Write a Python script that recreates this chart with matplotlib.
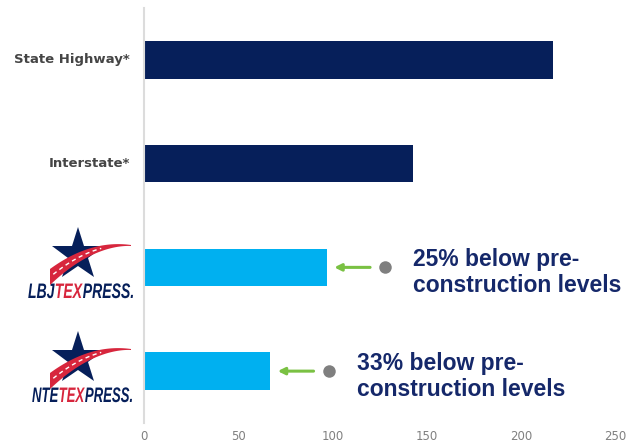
#!/usr/bin/env python3
"""Horizontal bar chart: crashes by road type vs. TEXpress lanes."""

import matplotlib

matplotlib.use("Agg")
import matplotlib.pyplot as plt  # noqa: E402
from matplotlib.font_manager import FontProperties  # noqa: E402
from matplotlib.patches import PathPatch, Polygon  # noqa: E402
from matplotlib.textpath import TextPath  # noqa: E402
from matplotlib.transforms import Affine2D  # noqa: E402
import numpy as np  # noqa: E402

CATEGORIES = ["State Highway*", "Interstate*", "LBJ", "NTE"]
VALUES = [217, 143, 97, 67]
BAR_COLORS = ["#061f5a", "#061f5a", "#00b0f0", "#00b0f0"]
NOTES = {2: "25% below pre-\nconstruction levels", 3: "33% below pre-\nconstruction levels"}
LOGO_PREFIX = {2: "LBJ", 3: "NTE"}
X_TICKS = [0, 50, 100, 150, 200, 250]

NAVY = "#061f5a"
TEXT_NAVY = "#15286a"
RED = "#d7263d"
W, H = 631, 445
LOGO_FONT = FontProperties(family="Liberation Sans", weight="bold", style="italic")


def squeezed_word(lax, x, baseline, pieces, width):
    """Draw condensed coloured word pieces so they fill `width` pixels."""
    paths = [TextPath((0, 0), s, size=21, prop=LOGO_FONT) for s, _ in pieces]
    advances = [p.get_extents().x1 for p in paths]
    sx = width / sum(advances)
    for path, adv, (_, color) in zip(paths, advances, pieces):
        tr = Affine2D().scale(sx, -1).translate(x, baseline)
        lax.add_patch(PathPatch(tr.transform_path(path), color=color, lw=0))
        x += adv * sx


def draw_logo(lax, cy, prefix, x_left, width):
    # star behind the road swoosh
    lax.plot(78, cy - 9, marker="*", markersize=40, color=NAVY, mew=0, zorder=1)
    t = np.linspace(0, 1, 50)
    xs = 50 + (131 - 50) * t
    upper = (cy + 5) - 24 * t - 22 * t * (1 - t) * 1.6
    lower = upper + 15 * (1 - t) ** 1.2 + 1
    pts = np.vstack([np.column_stack([xs, upper]), np.column_stack([xs[::-1], lower[::-1]])])
    lax.add_patch(Polygon(pts, closed=True, color=RED, lw=0, zorder=3))
    mid = (upper + lower) / 2
    lax.plot(xs[2:32], mid[2:32], color="white", lw=1.0, ls=(0, (3, 2.5)), zorder=4)
    squeezed_word(lax, x_left, cy + 34,
                  [(prefix, NAVY), ("TEX", RED), ("PRESS.", NAVY)], width)


def main():
    fig = plt.figure(figsize=(W / 100, H / 100), dpi=100)
    ax = fig.add_axes([144 / W, 1 - 423 / H, (615 - 144) / W, (423 - 8) / H])
    pos = np.arange(len(CATEGORIES))
    ax.barh(pos, VALUES, height=0.36, color=BAR_COLORS)
    ax.set_ylim(3.5, -0.5)
    ax.set_xlim(0, 250)
    ax.set_xticks(X_TICKS)
    ax.tick_params(axis="x", length=0, pad=5, labelsize=8.5, labelcolor="#808080")
    ax.set_yticks([])
    for side in ("top", "right", "bottom"):
        ax.spines[side].set_visible(False)
    ax.spines["left"].set_color("#dcdcdc")
    ax.spines["left"].set_linewidth(1.5)

    for i in (0, 1):
        ax.text(-7.5, pos[i], CATEGORIES[i], ha="right", va="center", fontsize=9.5,
                fontweight="bold", color="#454545", family="DejaVu Sans")

    for i, note in NOTES.items():
        v = VALUES[i]
        ax.annotate("", xy=(v + 4, pos[i]), xytext=(v + 23, pos[i]),
                    arrowprops=dict(arrowstyle="-|>", color="#7ac143", lw=2.2,
                                    mutation_scale=10, shrinkA=0, shrinkB=0))
        ax.plot(v + 31, pos[i], "o", color="#7f7f7f", markersize=9, mew=0)
        ax.text(v + 46, pos[i] + 0.05, note, ha="left", va="center", fontsize=16.5,
                fontweight="bold", color=TEXT_NAVY, family="Liberation Sans",
                linespacing=1.15)

    lax = fig.add_axes([0, 0, 144 / W, 1])
    lax.set_xlim(0, 144)
    lax.set_ylim(H, 0)
    lax.axis("off")
    draw_logo(lax, 264, LOGO_PREFIX[2], 28, 105)
    draw_logo(lax, 368, LOGO_PREFIX[3], 32, 100)

    fig.savefig("out.png", dpi=100)
    plt.close(fig)


if __name__ == "__main__":
    main()
